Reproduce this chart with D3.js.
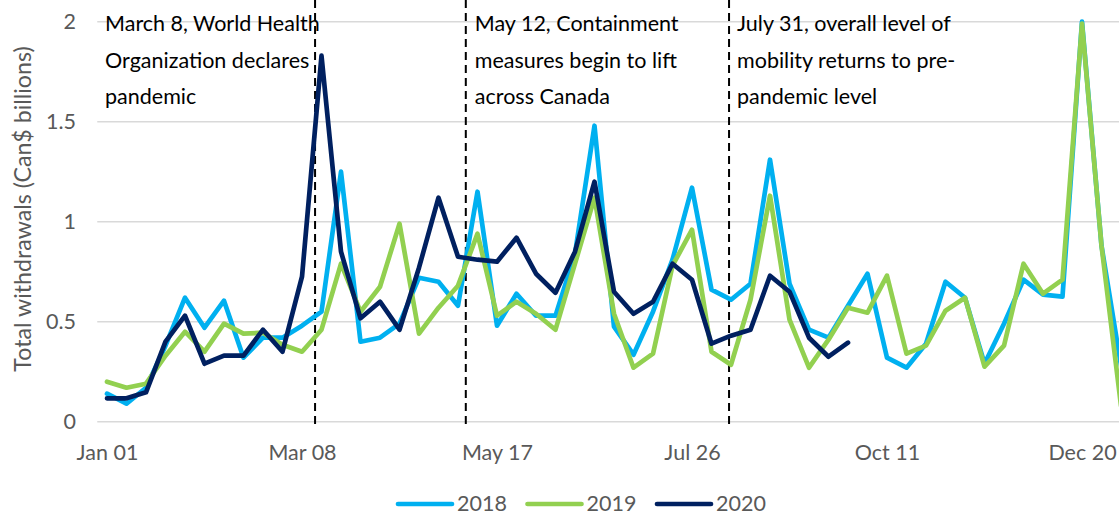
<!DOCTYPE html>
<html>
<head>
<meta charset="utf-8">
<script src="https://cdn.jsdelivr.net/npm/d3@7"></script>
<style>
  html, body { margin: 0; padding: 0; background: #fff; }
  svg { display: block; font-family: Lato, "Open Sans", sans-serif; }
</style>
</head>
<body>
<div id="chart"></div>
<script>
// weekly categories (2020 week starts)
const weeks = [
  `Jan 01`, `Jan 05`, `Jan 12`, `Jan 19`, `Jan 26`, `Feb 02`, `Feb 09`, `Feb 16`, `Feb 23`, `Mar 01`,
  `Mar 08`, `Mar 15`, `Mar 22`, `Mar 29`, `Apr 05`, `Apr 12`, `Apr 19`, `Apr 26`, `May 03`, `May 10`,
  `May 17`, `May 24`, `May 31`, `Jun 07`, `Jun 14`, `Jun 21`, `Jun 28`, `Jul 05`, `Jul 12`, `Jul 19`,
  `Jul 26`, `Aug 02`, `Aug 09`, `Aug 16`, `Aug 23`, `Aug 30`, `Sep 06`, `Sep 13`, `Sep 20`, `Sep 27`,
  `Oct 11`, `Oct 18`, `Oct 25`, `Nov 01`, `Nov 08`, `Nov 15`, `Nov 22`, `Nov 29`, `Dec 06`, `Dec 13`,
  `Dec 20`, `Dec 27`, `Dec 31`
];
const xTickIdx = [0, 10, 20, 30, 40, 50];
const yTicks = [0, 0.5, 1, 1.5, 2];

const w2018 = [
  0.14, 0.09, 0.17, 0.38, 0.62, 0.47, 0.605, 0.32, 0.42, 0.42,
  0.48, 0.55, 1.25, 0.40, 0.42, 0.49, 0.72, 0.70, 0.58, 1.15,
  0.48, 0.64, 0.53, 0.53, 0.84, 1.48, 0.475, 0.335, 0.55, 0.81,
  1.17, 0.66, 0.61, 0.69, 1.31, 0.69, 0.46, 0.42, 0.58, 0.74,
  0.32, 0.27, 0.39, 0.70, 0.62, 0.29, 0.49, 0.71, 0.635, 0.625,
  2.0, 0.88, 0.28
];
const w2019 = [
  0.20, 0.17, 0.19, 0.33, 0.45, 0.35, 0.49, 0.44, 0.445, 0.385,
  0.35, 0.46, 0.79, 0.55, 0.675, 0.99, 0.44, 0.57, 0.68, 0.94,
  0.53, 0.60, 0.54, 0.46, 0.79, 1.12, 0.54, 0.27, 0.34, 0.78,
  0.96, 0.35, 0.285, 0.61, 1.13, 0.51, 0.27, 0.41, 0.57, 0.545,
  0.73, 0.34, 0.38, 0.555, 0.62, 0.275, 0.38, 0.79, 0.64, 0.71,
  1.99, 0.88, 0.08
];
const w2020 = [
  0.117, 0.117, 0.147, 0.40, 0.53, 0.29, 0.33, 0.33, 0.46, 0.35,
  0.725, 1.83, 0.85, 0.517, 0.60, 0.46, 0.77, 1.12, 0.825, 0.81,
  0.80, 0.92, 0.74, 0.645, 0.85, 1.20, 0.65, 0.54, 0.60, 0.79,
  0.71, 0.39, 0.43, 0.46, 0.73, 0.65, 0.42, 0.325, 0.395
];

const seriesNames = [`2018`, `2019`, `2020`];
const seriesValues = [w2018, w2019, w2020];
const seriesColors = [`#00B0F0`, `#92D050`, `#002060`];

// event markers, in (fractional) week index
const eventPos = [10.67, 18.4, 31.9];
const eventText = [
  [`March 8, World Health`, `Organization declares`, `pandemic`],
  [`May 12, Containment`, `measures begin to lift`, `across Canada`],
  [`July 31, overall level of`, `mobility returns to pre-`, `pandemic level`]
];

const width = 1119;
const height = 515;
const fontSize = 21.5;

const svg = d3.select(`#chart`).append(`svg`)
  .attr(`width`, width)
  .attr(`height`, height);

const x = d3.scaleLinear()
  .domain([-0.5, weeks.length - 0.5])
  .range([97.25, 97.25 + weeks.length * 19.5]);
const y = d3.scaleLinear()
  .domain([0, 2])
  .range([421.7, 21.7]);

// gridlines
svg.append(`g`)
  .selectAll(`line`)
  .data(yTicks)
  .enter().append(`line`)
    .attr(`x1`, x.range()[0])
    .attr(`x2`, x.range()[1])
    .attr(`y1`, (d) => y(d))
    .attr(`y2`, (d) => y(d))
    .attr(`stroke`, `#d9d9d9`)
    .attr(`stroke-width`, 1.5);

// y axis labels
const yAxis = svg.append(`g`)
  .attr(`transform`, `translate(76,0)`)
  .call(d3.axisLeft(y).tickValues(yTicks).tickSize(0).tickPadding(0).tickFormat(d3.format(`~g`)));
yAxis.select(`.domain`).remove();
yAxis.selectAll(`text`)
  .attr(`font-family`, `Lato, "Open Sans", sans-serif`)
  .attr(`font-size`, fontSize)
  .attr(`fill`, `#595959`);

// x axis labels
const xAxis = svg.append(`g`)
  .attr(`transform`, `translate(0,441)`)
  .call(d3.axisBottom(x).tickValues(xTickIdx).tickSize(0).tickPadding(0).tickFormat((i) => weeks[i]));
xAxis.select(`.domain`).remove();
xAxis.selectAll(`text`)
  .attr(`font-family`, `Lato, "Open Sans", sans-serif`)
  .attr(`font-size`, fontSize)
  .attr(`fill`, `#595959`)
  .attr(`dy`, `0.9em`);

// y axis title
svg.append(`text`)
  .attr(`transform`, `translate(31,209) rotate(-90)`)
  .attr(`text-anchor`, `middle`)
  .attr(`font-size`, 23.2)
  .attr(`fill`, `#595959`)
  .text(`Total withdrawals (Can$ billions)`);

// event lines
svg.append(`g`)
  .selectAll(`line`)
  .data(eventPos)
  .enter().append(`line`)
    .attr(`x1`, (d) => x(d))
    .attr(`x2`, (d) => x(d))
    .attr(`y1`, 0)
    .attr(`y2`, 428)
    .attr(`stroke`, `#000`)
    .attr(`stroke-width`, 2)
    .attr(`stroke-dasharray`, `8,5`);

// event annotations
const notes = svg.append(`g`)
  .selectAll(`text`)
  .data(eventText)
  .enter().append(`text`)
    .attr(`x`, (d, i) => x(eventPos[i]) - [210, -9, -8][i])
    .attr(`font-size`, fontSize)
    .attr(`fill`, `#000`);
notes.selectAll(`tspan`)
  .data((d) => d)
  .enter().append(`tspan`)
    .attr(`x`, function() { return d3.select(this.parentNode).attr(`x`); })
    .attr(`y`, (d, i) => 30.7 + i * 36.8)
    .text((d) => d);

// series lines
const line = d3.line()
  .x((d, i) => x(i))
  .y((d) => y(d));

svg.append(`g`)
  .selectAll(`path`)
  .data(seriesValues)
  .enter().append(`path`)
    .attr(`d`, line)
    .attr(`fill`, `none`)
    .attr(`stroke`, (d, i) => seriesColors[i])
    .attr(`stroke-width`, 4.7)
    .attr(`stroke-linejoin`, `round`)
    .attr(`stroke-linecap`, `round`);

// legend
const legend = svg.append(`g`)
  .selectAll(`g`)
  .data(seriesNames)
  .enter().append(`g`)
    .attr(`transform`, (d, i) => `translate(${398 + i * 129.5},504)`);
legend.append(`line`)
  .attr(`x1`, 0)
  .attr(`x2`, 54)
  .attr(`stroke`, (d, i) => seriesColors[i])
  .attr(`stroke-width`, 4.7)
  .attr(`stroke-linecap`, `round`);
legend.append(`text`)
  .attr(`x`, 59)
  .attr(`y`, 6.5)
  .attr(`font-size`, fontSize)
  .attr(`fill`, `#595959`)
  .text((d) => d);
</script>
</body>
</html>
